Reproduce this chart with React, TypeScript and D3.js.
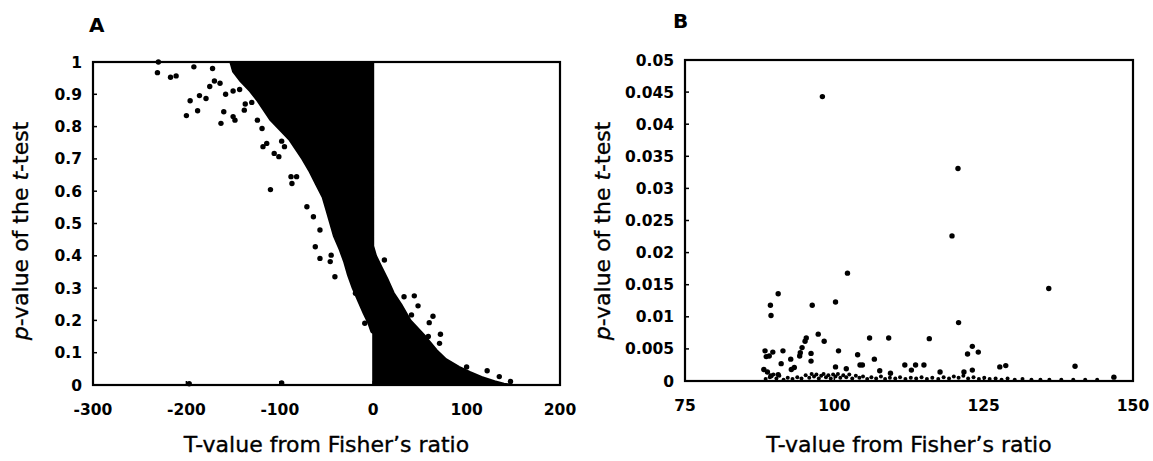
import React from 'react';
import * as d3 from 'd3';

// ---------- Panel A (all genes) ----------
const aXTicks = [-300, -200, -100, 0, 100, 200];
const aXTickLabels = ['-300', '-200', '-100', '0', '100', '200'];
const aYTicks = [0, 0.1, 0.2, 0.3, 0.4, 0.5, 0.6, 0.7, 0.8, 0.9, 1];
const aYTickLabels = ['0', '0.1', '0.2', '0.3', '0.4', '0.5', '0.6', '0.7', '0.8', '0.9', '1'];

// envelope of the densely overplotted cloud (left edge, top -> bottom)
const aBlobLeftP = [1.0, 0.97, 0.94, 0.91, 0.88, 0.85, 0.82, 0.79, 0.76, 0.73, 0.7, 0.66, 0.62, 0.58, 0.54, 0.5, 0.46, 0.42, 0.38, 0.34, 0.3, 0.26, 0.22, 0.19, 0.165, 0.16, 0.0];
const aBlobLeftT = [-153, -150, -142, -132, -124, -117, -110, -100, -90, -83, -76, -68, -61, -54, -50, -46, -42, -36, -31, -27, -22, -16, -10, -5, -2, 0, 0];
// right edge, bottom -> top
const aBlobRightP = [0.0, 0.004, 0.012, 0.025, 0.04, 0.056, 0.08, 0.108, 0.15, 0.2, 0.25, 0.285, 0.33, 0.365, 0.4, 0.43, 1.0];
const aBlobRightT = [150, 140, 130, 116, 104, 92, 78, 68, 56, 40, 30, 22, 15, 9, 3, 0, 0];

// isolated points around the cloud
const aOutlierT = [-230, -231, -217, -211, -192, -172, -196, -186, -179, -200, -188, -175, -170, -164, -160, -163, -150, -148, -138, -158, -150, -143, -137, -130, -124, -119, -118, -114, -106, -101, -95, -98, -110, -87, -88, -82, -71, -64, -57, -62, -57, -46, -41, -45, -19, -14, -9, 12, 33, 44, 48, 41, 64, 60, 72, 71, 59, 100, 122, 135, 147, -197, -98];
const aOutlierP = [1.0, 0.967, 0.953, 0.957, 0.985, 0.98, 0.88, 0.896, 0.887, 0.834, 0.849, 0.924, 0.941, 0.934, 0.846, 0.81, 0.831, 0.82, 0.851, 0.9, 0.91, 0.915, 0.87, 0.875, 0.82, 0.794, 0.738, 0.748, 0.717, 0.707, 0.738, 0.755, 0.605, 0.624, 0.645, 0.645, 0.552, 0.521, 0.48, 0.428, 0.392, 0.382, 0.335, 0.402, 0.284, 0.279, 0.191, 0.387, 0.273, 0.276, 0.245, 0.217, 0.213, 0.193, 0.157, 0.129, 0.15, 0.056, 0.044, 0.026, 0.011, 0.004, 0.006];

// ---------- Panel B (T > 75) ----------
const bXTicks = [75, 100, 125, 150];
const bXTickLabels = ['75', '100', '125', '150'];
const bYTicks = [0, 0.005, 0.01, 0.015, 0.02, 0.025, 0.03, 0.035, 0.04, 0.045, 0.05];
const bYTickLabels = ['0', '0.005', '0.01', '0.015', '0.02', '0.025', '0.03', '0.035', '0.04', '0.045', '0.05'];

const bPointT = [98.0, 120.7, 119.7, 102.2, 135.9, 90.6, 89.3, 89.4, 96.3, 100.2, 120.8, 97.3, 98.3, 95.3, 95.1, 94.6, 105.9, 109.1, 115.9, 100.7, 123.1, 124.1, 122.3, 88.4, 89.7, 88.6, 89.1, 91.4, 91.1, 92.7, 94.3, 94.2, 96.1, 96.1, 103.9, 106.7, 104.3, 104.7, 100.2, 102.0, 107.6, 109.4, 111.8, 112.9, 113.6, 115.0, 117.7, 121.7, 123.1, 127.7, 128.7, 140.3, 146.8, 88.2, 88.8, 92.8, 93.3, 90.6, 89.4];
const bPointP = [0.0443, 0.0331, 0.0226, 0.0168, 0.0144, 0.0136, 0.0118, 0.0102, 0.0118, 0.0123, 0.0091, 0.0073, 0.0062, 0.0067, 0.0062, 0.0052, 0.0067, 0.0067, 0.0066, 0.0047, 0.0054, 0.0045, 0.0042, 0.0047, 0.0045, 0.0038, 0.0039, 0.0047, 0.0027, 0.0034, 0.0044, 0.0039, 0.0043, 0.0031, 0.0041, 0.0034, 0.0025, 0.0025, 0.0022, 0.0019, 0.0016, 0.0012, 0.0025, 0.0017, 0.0025, 0.0025, 0.0014, 0.0014, 0.0017, 0.0022, 0.0024, 0.0023, 0.0006, 0.0018, 0.0014, 0.0018, 0.0021, 0.0010, 0.0008];

// the crowded band of very small p-values along the axis
const bTailT = [88.5, 89.2, 89.8, 90.3, 90.8, 91.5, 92.2, 93.0, 93.8, 94.5, 95.2, 95.8, 96.2, 96.6, 97.0, 97.4, 97.8, 98.2, 98.6, 99.0, 99.4, 99.8, 100.2, 100.6, 101.0, 101.5, 102.0, 102.5, 103.0, 103.6, 104.2, 104.8, 105.5, 106.2, 107.0, 107.8, 108.5, 109.3, 110.2, 111.0, 111.9, 112.8, 113.7, 114.6, 115.5, 116.4, 117.4, 118.3, 119.2, 120.0, 120.8, 121.6, 122.4, 123.3, 124.2, 125.1, 126.0, 127.0, 128.0, 129.0, 130.2, 131.5, 133.0, 134.5, 136.0, 138.0, 140.0, 142.0, 144.0];
const bTailP = [0.0003, 0.0006, 0.0010, 0.0004, 0.0008, 0.0002, 0.0005, 0.0003, 0.0006, 0.0004, 0.0009, 0.0005, 0.0011, 0.0007, 0.0010, 0.0004, 0.0008, 0.0011, 0.0006, 0.0009, 0.0004, 0.0010, 0.0007, 0.0011, 0.0005, 0.0009, 0.0006, 0.0010, 0.0004, 0.0008, 0.0005, 0.0007, 0.0003, 0.0006, 0.0004, 0.0007, 0.0003, 0.0005, 0.0004, 0.0006, 0.0003, 0.0005, 0.0004, 0.0006, 0.0003, 0.0005, 0.0003, 0.0006, 0.0004, 0.0007, 0.0005, 0.0008, 0.0004, 0.0006, 0.0003, 0.0005, 0.0003, 0.0004, 0.0002, 0.0004, 0.0002, 0.0003, 0.0002, 0.0002, 0.0002, 0.0002, 0.0002, 0.0002, 0.0002];

const TICK_FONT = '"DejaVu Sans", sans-serif';
const TITLE_FONT = '"DejaVu Sans", sans-serif';

type Scale = d3.ScaleLinear<number, number>;

function Frame(props: {
  x: Scale; y: Scale; xTicks: number[]; xLabels: string[]; yTicks: number[]; yLabels: string[];
  letter: string; letterX: number; letterY: number; yTitleX: number;
}) {
  const { x, y, xTicks, xLabels, yTicks, yLabels, letter, letterX, letterY, yTitleX } = props;
  const [x0, x1] = x.range();
  const [y0, y1] = y.range(); // y0 bottom, y1 top
  const cx = (x0 + x1) / 2;
  return (
    <g>
      <rect x={x0} y={y1} width={x1 - x0} height={y0 - y1} fill="none" stroke="#000" strokeWidth={2.2} />
      {yTicks.map((t, i) => (
        <g key={'yt' + i}>
          <line x1={x0} x2={x0 + 4} y1={y(t)} y2={y(t)} stroke="#000" strokeWidth={1.5} />
          <text x={x0 - 11} y={y(t)} dy="0.36em" textAnchor="end" fontFamily={TICK_FONT} fontWeight="bold" fontSize={15.5} fill="#000">
            {yLabels[i]}
          </text>
        </g>
      ))}
      {xTicks.map((t, i) => (
        <g key={'xt' + i}>
          <line x1={x(t)} x2={x(t)} y1={y0} y2={y0 - 4} stroke="#000" strokeWidth={1.5} />
          <text x={x(t)} y={y0 + 30} textAnchor="middle" fontFamily={TICK_FONT} fontWeight="bold" fontSize={15.5} fill="#000">
            {xLabels[i]}
          </text>
        </g>
      ))}
      <text x={cx} y={452} textAnchor="middle" fontFamily={TITLE_FONT} fontSize={22} fill="#000" stroke="#000" strokeWidth={0.35}>
        T-value from Fisher’s ratio
      </text>
      <text transform={`translate(${yTitleX},231) rotate(-90)`} textAnchor="middle" fontFamily={TITLE_FONT} fontSize={22} fill="#000" stroke="#000" strokeWidth={0.35}>
        <tspan fontStyle="italic">p</tspan>-value of the <tspan fontStyle="italic">t</tspan>-test
      </text>
      <text x={letterX} y={letterY} fontFamily={TICK_FONT} fontWeight="bold" fontSize={20} fill="#000">
        {letter}
      </text>
    </g>
  );
}

export default function App() {
  const xA = d3.scaleLinear().domain([-300, 200]).range([93, 560]);
  const yA = d3.scaleLinear().domain([0, 1]).range([385, 62]);
  const xB = d3.scaleLinear().domain([75, 150]).range([685, 1133]);
  const yB = d3.scaleLinear().domain([0, 0.05]).range([381, 60]);

  const blobPts: [number, number][] = [
    ...aBlobLeftT.map((t, i) => [t, aBlobLeftP[i]] as [number, number]),
    ...aBlobRightT.map((t, i) => [t, aBlobRightP[i]] as [number, number]),
  ];
  const blobPath = (d3.line<[number, number]>().x(d => xA(d[0])).y(d => yA(d[1]))(blobPts) || '') + 'Z';

  return (
    <svg width={1153} height={461} style={{ position: 'absolute', left: 0, top: 0, background: '#fff' }}>
      <rect x={0} y={0} width={1153} height={461} fill="#fff" />
      {/* Panel A */}
      <path d={blobPath} fill="#000" stroke="#000" strokeWidth={2} strokeLinejoin="round" />
      {aOutlierT.map((t, i) => (
        <circle key={'ao' + i} cx={xA(t)} cy={yA(aOutlierP[i])} r={2.7} fill="#000" />
      ))}
      <Frame x={xA} y={yA} xTicks={aXTicks} xLabels={aXTickLabels} yTicks={aYTicks} yLabels={aYTickLabels}
        letter="A" letterX={89} letterY={32} yTitleX={28} />
      {/* Panel B */}
      {bTailT.map((t, i) => (
        <circle key={'bt' + i} cx={xB(t)} cy={yB(bTailP[i])} r={2} fill="#000" />
      ))}
      {bPointT.map((t, i) => (
        <circle key={'bp' + i} cx={xB(t)} cy={yB(bPointP[i])} r={2.7} fill="#000" />
      ))}
      <Frame x={xB} y={yB} xTicks={bXTicks} xLabels={bXTickLabels} yTicks={bYTicks} yLabels={bYTickLabels}
        letter="B" letterX={673} letterY={28} yTitleX={610} />
    </svg>
  );
}
